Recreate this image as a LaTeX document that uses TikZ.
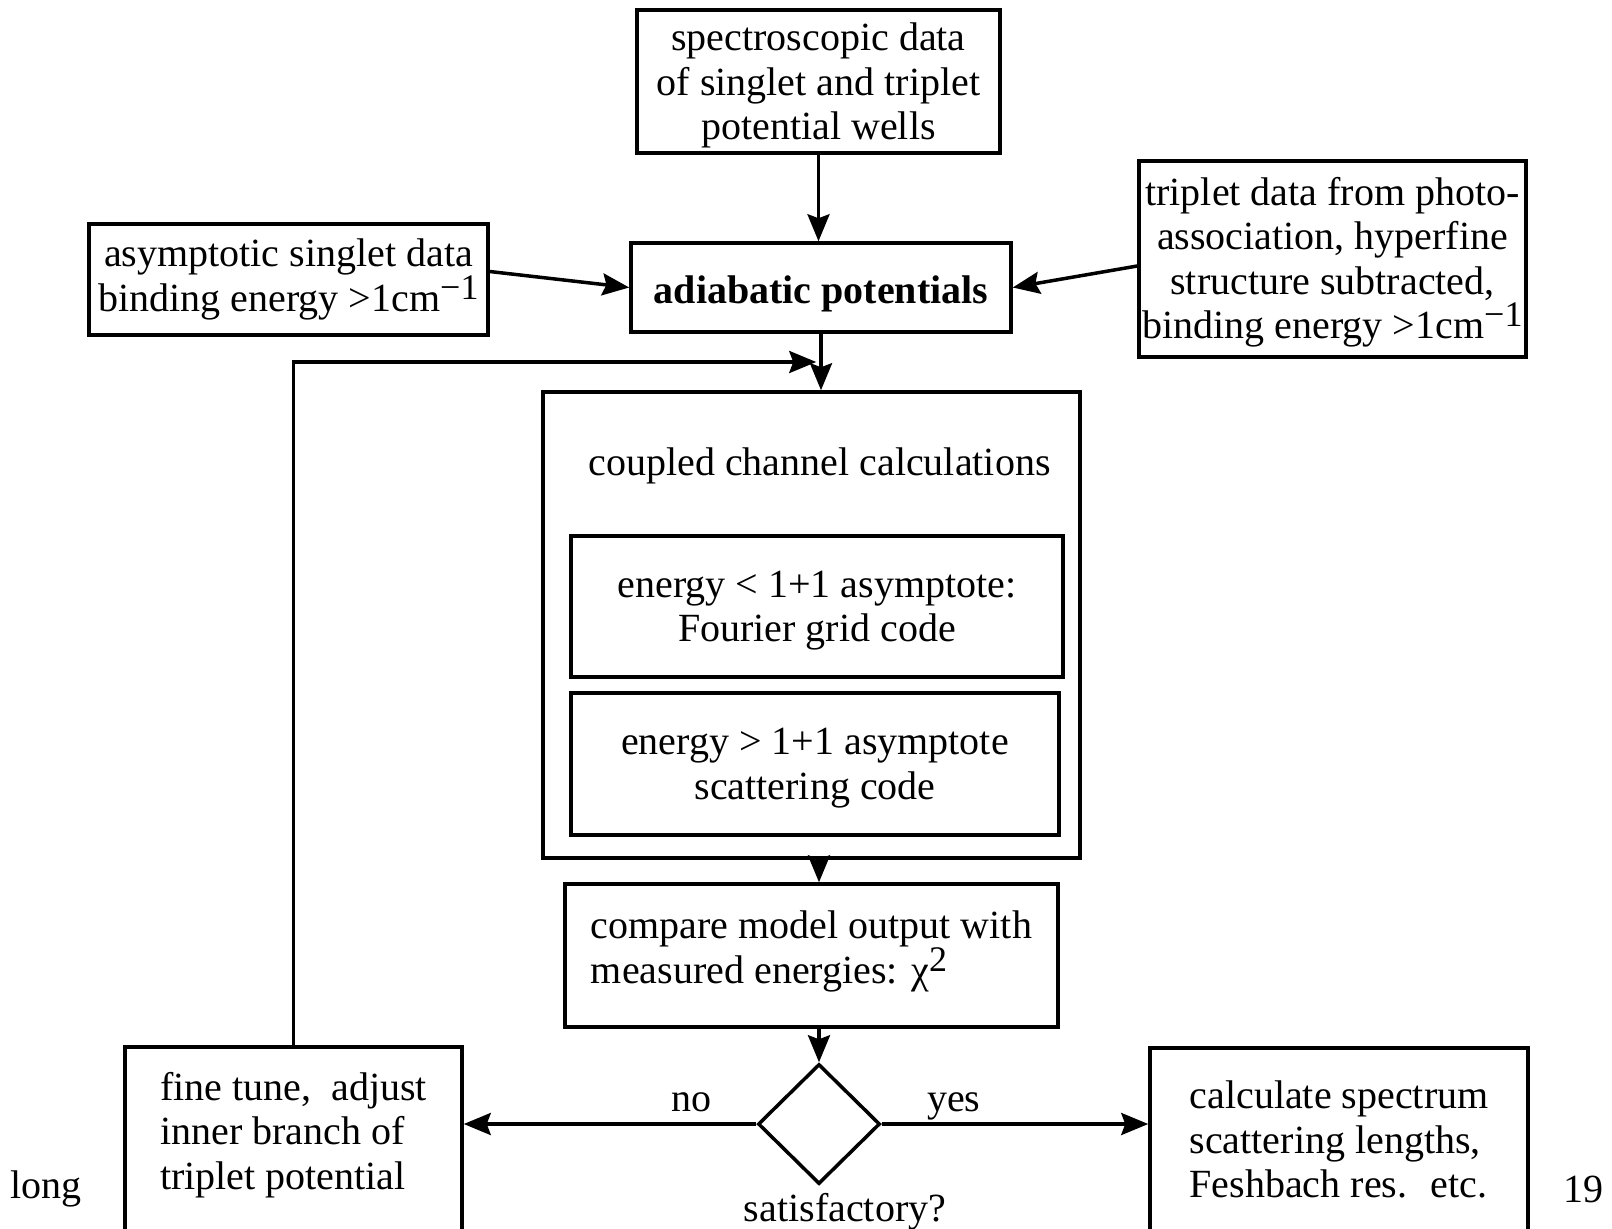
\documentclass[tikz,border=0pt]{standalone}
\usepackage{fontspec}
\setmainfont{Liberation Serif}
\usetikzlibrary{shapes.geometric,arrows.meta,calc}
\newcommand{\supr}[1]{\raisebox{0.3em}{\fontsize{36}{36}\selectfont #1}}

\begin{document}
\begin{tikzpicture}[x=1pt,y=-1pt,
        font=\fontsize{40}{44.5}\selectfont,
        box/.style={draw, line width=3.5pt, inner sep=0pt, align=center},
        flow/.style={line width=3.5pt, -{Stealth[length=27pt,width=22pt,inset=4pt]}}]
        \clip (0,0) rectangle (1612,1229);

        % input data and potentials
        \node[box, text depth=0pt, minimum width=363, minimum height=143] (spec) at (818.5,81.5) {spectroscopic data\\of singlet and triplet\\potential wells};
        \node[box, text height=41pt, minimum width=380, minimum height=89] (adiab) at (821,287.5) {\textbf{adiabatic potentials}};
        \node[box, minimum width=399, minimum height=111] (singlet) at (288.5,279.5) {asymptotic singlet data\\binding energy >1cm\supr{−1}};
        \node[box, text depth=2pt, minimum width=387, minimum height=196] (triplet) at (1332.5,259) {triplet data from photo-\\association, hyperfine\\structure subtracted,\\binding energy >1cm\supr{−1}};

        % coupled channel block
        \node[box, minimum width=537, minimum height=466, label={[anchor=base, xshift=8pt, yshift=-85pt]north:coupled channel calculations}] (coupled) at (811.5,625) {};
        \node[box, text depth=0pt, minimum width=492, minimum height=141] (fourier) at (817,606.5) {energy < 1+1 asymptote:\\Fourier grid code};
        \node[box, text depth=0pt, minimum width=488, minimum height=142] (scatter) at (815,764) {energy > 1+1 asymptote\\scattering code};

        \node[box, align=left, text depth=17pt, minimum width=493, minimum height=143] (compare) at (811.5,955.5) {compare model output with\\measured energies: χ\supr{2}};
        \node[draw, diamond, line width=3.5pt, inner sep=0pt, minimum width=122, minimum height=120] (dia) at (819,1124) {};
        \node (sat) at ([xshift=26pt, yshift=-26pt]dia.south) {satisfactory?};

        \node[box, align=left, text depth=35pt, minimum width=337, minimum height=202] (fine) at (293.5,1148) {fine tune,~ adjust\\inner branch of\\triplet potential};
        \node[box, align=left, text depth=19pt, minimum width=378, minimum height=202] (calc) at (1339,1149) {calculate spectrum\\scattering lengths,\\Feshbach res.~ etc.};

        \node (long) at (46,1189) {long};
        \node (page) at (1583,1189) {19};

        % connectors
        \coordinate (join) at ($(adiab.south)!0.5!(coupled.north)$);
        \draw[flow] (spec.south) -- (spec.south |- adiab.north);
        \draw[flow] ([yshift=8pt]singlet.east) -- (adiab.west);
        \draw[flow] ([yshift=-7pt]triplet.west) -- (adiab.east);
        \draw[flow] (adiab.south) -- (adiab.south |- coupled.north);
        \draw[flow] (fine.north) |- (join);
        \draw[flow] (coupled.south -| dia.north) -- (compare.north -| dia.north);
        \draw[flow] (compare.south -| dia.north) -- (dia.north);
        \draw[flow] (dia.west) -- (dia.west -| fine.east) node[pos=0.22, anchor=base, yshift=13pt] {no};
        \draw[flow] (dia.east) -- (dia.east -| calc.west) node[pos=0.27, anchor=base, yshift=13pt] {yes};
\end{tikzpicture}
\end{document}
